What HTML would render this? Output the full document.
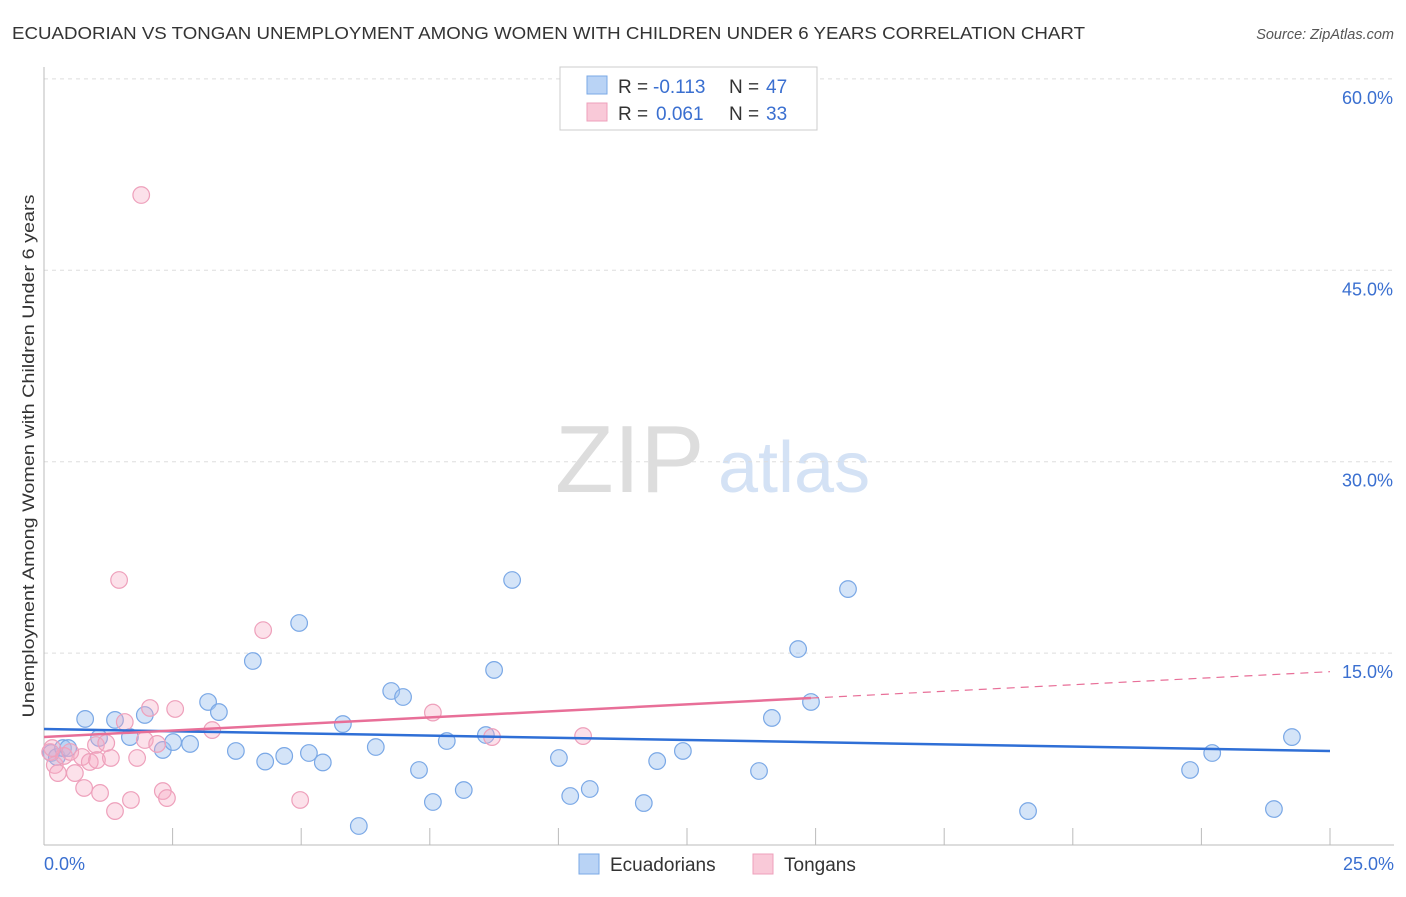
<!DOCTYPE html>
<html><head><meta charset="utf-8"><style>
body{margin:0;background:#fff;font-family:"Liberation Sans",sans-serif;}
svg text{font-family:"Liberation Sans",sans-serif;}
</style></head><body>
<svg id="c" width="1406" height="892">
<text x="12" y="39" font-size="17.5" fill="#333" textLength="1073" lengthAdjust="spacingAndGlyphs">ECUADORIAN VS TONGAN UNEMPLOYMENT AMONG WOMEN WITH CHILDREN UNDER 6 YEARS CORRELATION CHART</text>
<text x="1394" y="39" font-size="14.5" fill="#555" font-style="italic" text-anchor="end">Source: ZipAtlas.com</text>
<text x="555" y="492" font-size="96" fill="#ddd" font-family="Liberation Serif,serif">ZIP</text>
<text x="718" y="492" font-size="72" fill="#d4e2f5">atlas</text>
<text transform="translate(34,456) rotate(-90)" font-size="17" fill="#333" text-anchor="middle" textLength="523" lengthAdjust="spacingAndGlyphs">Unemployment Among Women with Children Under 6 years</text>
<g id="grid"></g><g id="marks"></g>
<g>
<rect x="560" y="67" width="257" height="63" fill="#fff" stroke="#ccc"/>
<rect x="587" y="76" width="20" height="18" fill="#b9d3f5" stroke="#7aa8e6"/>
<rect x="587" y="103" width="20" height="18" fill="#f9c9d8" stroke="#eea0bb"/>
<text x="618" y="93" font-size="19" fill="#333">R =</text>
<text x="653" y="93" font-size="19" fill="#3a6fd0">-0.113</text>
<text x="729" y="93" font-size="19" fill="#333">N =</text>
<text x="766" y="93" font-size="19" fill="#3a6fd0">47</text>
<text x="618" y="120" font-size="19" fill="#333">R =</text>
<text x="656" y="120" font-size="19" fill="#3a6fd0">0.061</text>
<text x="729" y="120" font-size="19" fill="#333">N =</text>
<text x="766" y="120" font-size="19" fill="#3a6fd0">33</text>
</g>
<g>
<rect x="579" y="854" width="20" height="20" fill="#b9d3f5" stroke="#7aa8e6"/>
<text x="610" y="871" font-size="19" fill="#333">Ecuadorians</text>
<rect x="753" y="854" width="20" height="20" fill="#f9c9d8" stroke="#eea0bb"/>
<text x="784" y="871" font-size="19" fill="#333">Tongans</text>
</g>
</svg>
<script>
const blueX=[0.14,0.25,0.37,0.47,0.80,1.07,1.38,1.67,1.96,2.31,2.51,2.84,3.19,3.40,3.73,4.06,4.30,4.67,4.96,5.15,5.42,5.81,6.12,6.45,6.75,6.98,7.29,7.56,7.83,8.16,8.59,8.75,9.10,10.01,10.23,10.61,11.66,11.92,12.42,13.90,14.15,14.66,14.91,15.63,19.13,22.28,22.71,23.91,24.26];
const blueY=[7.17,6.86,7.56,7.56,9.84,8.35,9.76,8.42,10.15,7.41,8.03,7.88,11.17,10.38,7.33,14.38,6.50,6.94,17.36,7.17,6.43,9.44,1.45,7.64,12.03,11.56,5.84,3.33,8.11,4.27,8.58,13.68,20.73,6.78,3.80,4.35,3.25,6.54,7.33,5.76,9.92,15.32,11.17,20.02,2.62,5.84,7.17,2.78,8.42];
const pinkX=[0.12,0.21,0.27,0.39,0.51,0.60,0.74,0.78,0.89,1.01,1.03,1.09,1.21,1.30,1.38,1.46,1.57,1.69,1.81,1.89,1.96,2.06,2.20,2.31,2.39,2.55,3.27,4.26,4.98,7.56,8.71,10.48,0.16];
const pinkY=[7.25,6.23,5.60,6.94,7.25,5.60,6.86,4.43,6.47,7.80,6.62,4.04,7.95,6.78,2.62,20.73,9.60,3.49,6.78,50.9,8.19,10.70,7.88,4.19,3.64,10.62,8.97,16.8,3.49,10.34,8.42,8.50,7.56];
const blueTrend=[9.05,-0.0688];
const pinkTrend=[8.42,0.205];
const yTicks=[15,30,45,60];
const xTickLabels=["0.0%","25.0%"];
const X=v=>44+v*51.44, Y=v=>844.5-v*12.76;
const NS="http://www.w3.org/2000/svg";
function mk(t,a,p){const e=document.createElementNS(NS,t);for(const k in a)e.setAttribute(k,a[k]);p.appendChild(e);return e;}
const g=document.getElementById('grid'),m=document.getElementById('marks');
yTicks.forEach(t=>{const l=mk('line',{x1:44,x2:1394,y1:Y(t),y2:Y(t),stroke:'#ddd','stroke-dasharray':'4,4'},g);


const tx=mk('text',{x:1393,y:Y(t)+25,'font-size':18,fill:'#3a6fd0','text-anchor':'end'},g);tx.textContent=t.toFixed(1)+'%';

});
const ax=mk('line',{x1:44,x2:1394,y1:845,y2:845,stroke:'#bbb'},g);


const ay=mk('line',{x1:44,x2:44,y1:67,y2:845,stroke:'#bbb'},g);


for(let i=1;i<=10;i++){const t=mk('line',{x1:X(i*2.5),x2:X(i*2.5),y1:828,y2:845,stroke:'#bbb'},g);

}
[[0,'start',44],[25,'end',1394]].forEach((d,i)=>{const t=mk('text',{x:d[2],y:870,'font-size':18,fill:'#3a6fd0','text-anchor':d[1]},g);t.textContent=xTickLabels[i];

});
blueX.forEach((x,i)=>{const c=mk('circle',{cx:X(x),cy:Y(blueY[i]),r:8.3,fill:'rgba(160,195,240,0.45)',stroke:'#7aa8e6','stroke-width':1.2},m);

});
pinkX.forEach((x,i)=>{const c=mk('circle',{cx:X(x),cy:Y(pinkY[i]),r:8.3,fill:'rgba(245,170,195,0.35)',stroke:'#eea0bb','stroke-width':1.2},m);

});
const bl=mk('line',{x1:X(0),y1:Y(blueTrend[0]),x2:X(25),y2:Y(blueTrend[0]+blueTrend[1]*25),stroke:'#2f6fd6','stroke-width':2.5},m);


const pe=14.91;
const pl=mk('line',{x1:X(0),y1:Y(pinkTrend[0]),x2:X(pe),y2:Y(pinkTrend[0]+pinkTrend[1]*pe),stroke:'#e86f98','stroke-width':2.5},m);


const pd=mk('line',{x1:X(pe),y1:Y(pinkTrend[0]+pinkTrend[1]*pe),x2:X(25),y2:Y(pinkTrend[0]+pinkTrend[1]*25),stroke:'#e86f98','stroke-width':1.2,'stroke-dasharray':'8,6'},m);


</script>
</body></html>
